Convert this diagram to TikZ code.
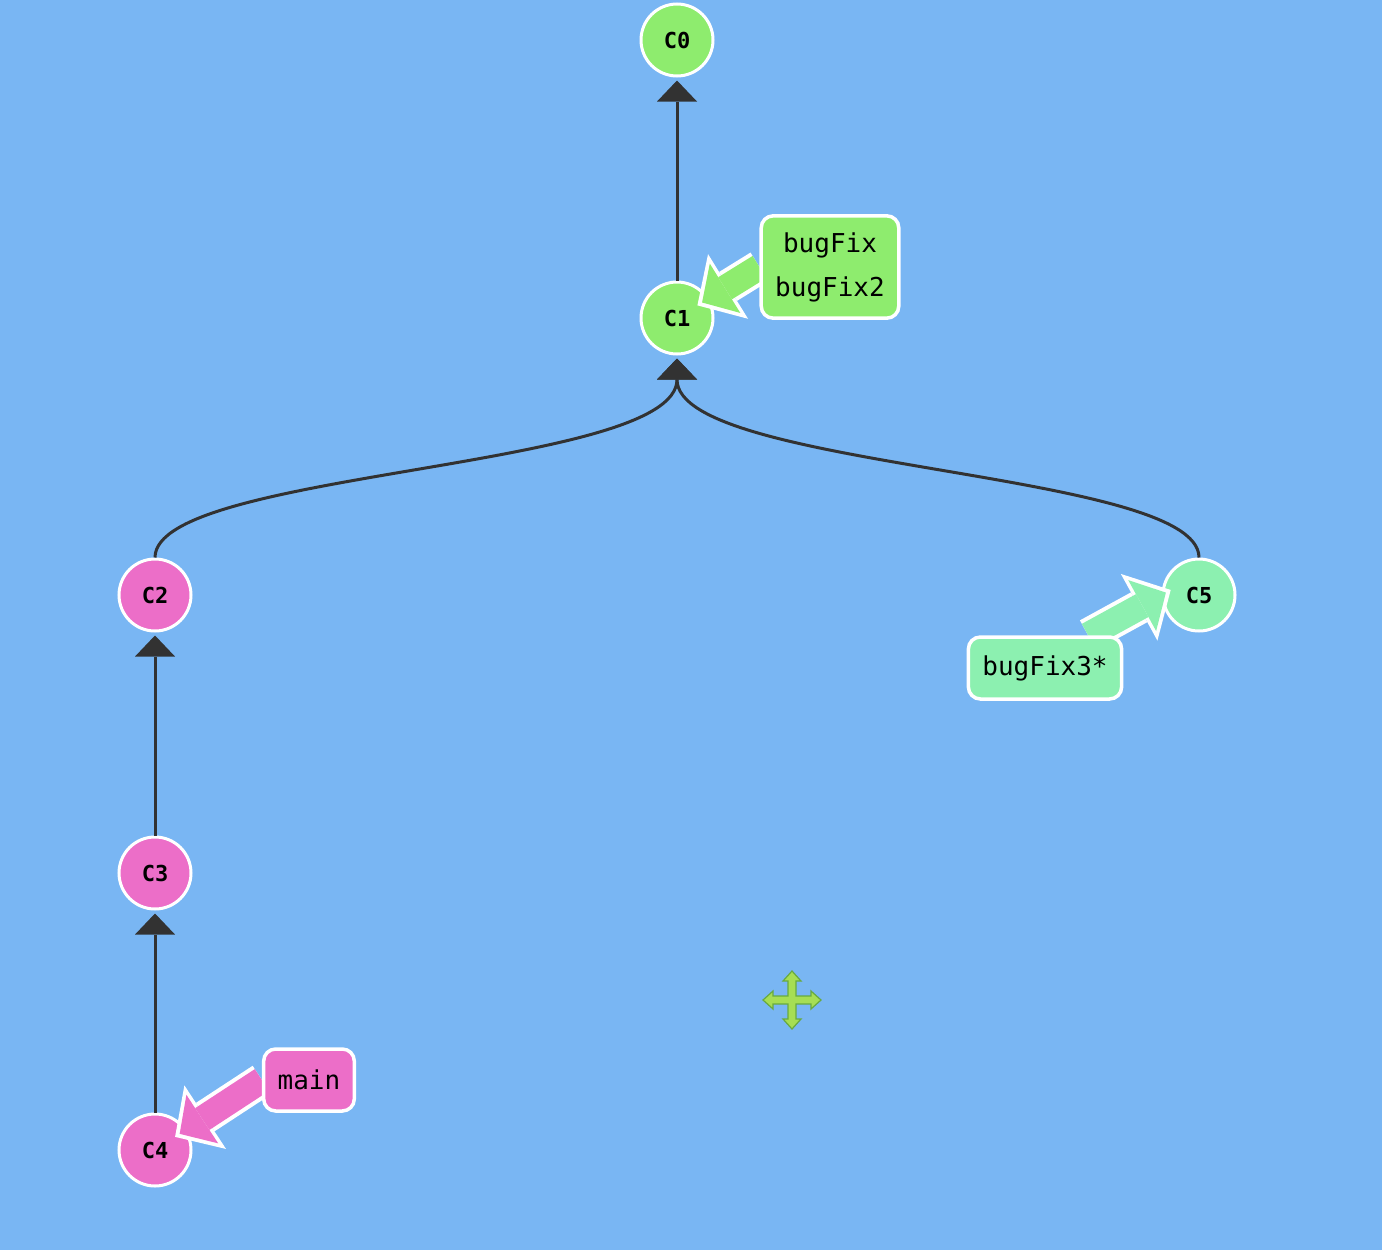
\documentclass[tikz,border=0pt]{standalone}
\usepackage{fontspec}
\setmonofont{DejaVu Sans Mono}
\usetikzlibrary{calc,arrows.meta,backgrounds}

\definecolor{fond}{RGB}{121,182,243}
\definecolor{vert}{RGB}{142,236,110}
\definecolor{rose}{RGB}{236,110,200}
\definecolor{menthe}{RGB}{140,240,176}
\definecolor{trait}{RGB}{50,50,50}
\definecolor{curseur}{RGB}{166,222,84}
\definecolor{curseurbord}{RGB}{104,170,64}

\pgfdeclarelayer{avant}
\pgfsetlayers{background,main,avant}

\tikzset{
  commit/.style={circle, draw=white, line width=3pt, minimum size=72pt,
    inner sep=0pt, font=\ttfamily\bfseries\fontsize{22}{22}\selectfont},
  branche/.style={draw=white, line width=3.5pt, rounded corners=12pt,
    inner xsep=14pt, inner ysep=16.5pt, minimum height=62pt, align=center,
    font=\ttfamily\fontsize{26}{44}\selectfont},
  lien/.style={trait, line width=3pt,
    -{Triangle[length=21pt,width=40pt,line width=0pt]}, shorten >=3pt},
  contour/.style={white, line width=34pt,
    -{Triangle[length=36pt,width=76pt,line width=0pt]}, shorten >=-#1},
  contour/.default=13.5pt,
  fleche/.style={#1, line width=26pt,
    -{Triangle[length=27pt,width=58pt,line width=0pt]}, shorten >=-8pt}
}

\begin{document}
\begin{tikzpicture}[x=1pt,y=-1pt]
      \fill[fond] (0,0) rectangle (1382,1250);
      \useasboundingbox (0,0) rectangle (1382,1250);

      % Commits
      \node[commit, fill=vert]   (c0) at (677,40)   {C0};
      \node[commit, fill=vert]   (c1) at (677,318)  {C1};
      \node[commit, fill=rose]   (c2) at (155,595)  {C2};
      \node[commit, fill=rose]   (c3) at (155,873)  {C3};
      \node[commit, fill=rose]   (c4) at (155,1150) {C4};
      \node[commit, fill=menthe] (c5) at (1199,595) {C5};

      % Parents
      \draw[lien] (c1) -- (c0);
      \draw[lien] (c2.north) .. controls (155,470) and (677,470) .. (c1.south);
      \draw[lien] (c5.north) .. controls (1199,470) and (677,470) .. (c1.south);
      \draw[lien] (c3) -- (c2);
      \draw[lien] (c4) -- (c3);

      % Branches
      \begin{pgfonlayer}{avant}
        \node[branche, fill=vert]   (bugfix)  at (830,267)  {bugFix\\bugFix2};
        \node[branche, fill=menthe] (bugfix3) at (1045,668) {bugFix3*};
        \node[branche, fill=rose]   (main)    at (309,1080) {main};
      \end{pgfonlayer}
      \coordinate (depart3) at ($(bugfix3.north)!0.55!(bugfix3.north east)$);

      \draw[contour] (bugfix.west) -- (c1);
      \draw[fleche=vert] (bugfix.west) -- (c1);
      \draw[contour=10.5pt] (depart3) -- (c5.west);
      \draw[fleche=menthe, shorten >=-5pt] (depart3) -- (c5.west);
      \draw[contour] (main.west) -- (c4);
      \draw[fleche=rose] (main.west) -- (c4);

      % Curseur
      \filldraw[fill=curseur, draw=curseurbord, line width=1.2pt, shift={(792,1000)}]
        (0,-29) -- (9,-19) -- (4,-19) -- (4,-4) -- (19,-4) -- (19,-9) -- (29,0)
        -- (19,9) -- (19,4) -- (4,4) -- (4,19) -- (9,19) -- (0,29) -- (-9,19)
        -- (-4,19) -- (-4,4) -- (-19,4) -- (-19,9) -- (-29,0) -- (-19,-9)
        -- (-19,-4) -- (-4,-4) -- (-4,-19) -- (-9,-19) -- cycle;
    \end{tikzpicture}
\end{document}
